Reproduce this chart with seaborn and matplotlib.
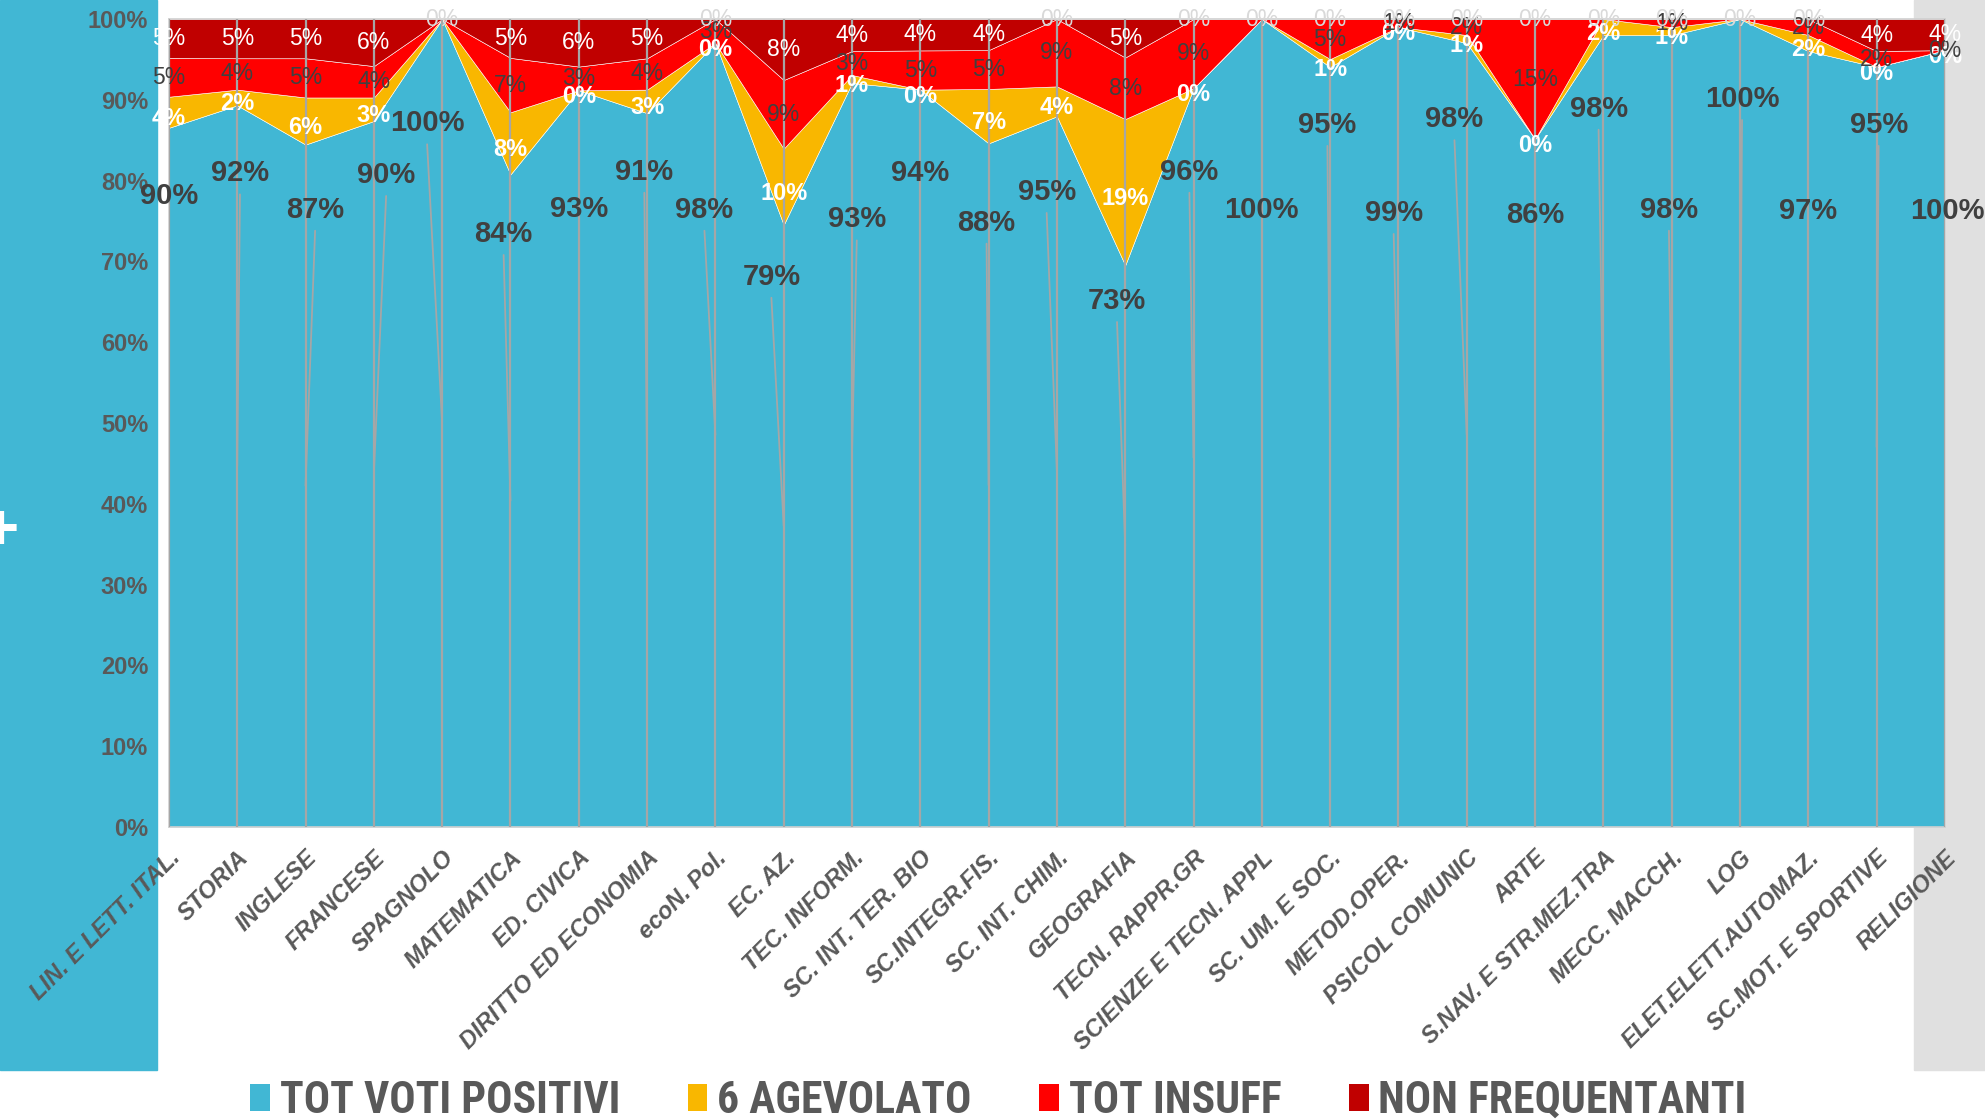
import pandas as pd
import seaborn as sns
import matplotlib.pyplot as plt
from matplotlib import font_manager
from matplotlib.patches import Patch, Rectangle
from matplotlib.font_manager import FontProperties

# data (percent labels as shown)
subjects = ["LIN. E LETT. ITAL.", "STORIA", "INGLESE", "FRANCESE", "SPAGNOLO",
            "MATEMATICA", "ED. CIVICA", "DIRITTO ED ECONOMIA", "ecoN. Pol.", "EC. AZ.",
            "TEC. INFORM.", "SC. INT. TER. BIO", "SC.INTEGR.FIS.", "SC. INT. CHIM.",
            "GEOGRAFIA", "TECN. RAPPR.GR", "SCIENZE E TECN. APPL", "SC. UM. E SOC.",
            "METOD.OPER.", "PSICOL COMUNIC", "ARTE", "S.NAV. E STR.MEZ.TRA",
            "MECC. MACCH.", "LOG", "ELET.ELETT.AUTOMAZ.", "SC.MOT. E SPORTIVE", "RELIGIONE"]
positivi = [90, 92, 87, 90, 100, 84, 93, 91, 98, 79, 93, 94, 88, 95, 73, 96, 100, 95, 99, 98, 86, 98, 98, 100, 97, 95, 100]
agevolato = [4, 2, 6, 3, 0, 8, 0, 3, 0, 10, 1, 0, 7, 4, 19, 0, 0, 1, 0, 1, 0, 2, 1, 0, 2, 0, 0]
insuff = [5, 4, 5, 4, 0, 7, 3, 4, 3, 9, 3, 5, 5, 9, 8, 9, 0, 5, 1, 2, 15, 0, 1, 0, 2, 2, 0]
non_freq = [5, 5, 5, 6, 0, 5, 6, 5, 0, 8, 4, 4, 4, 0, 5, 0, 0, 0, 0, 0, 0, 0, 0, 0, 0, 4, 4]

series_names = ["TOT VOTI POSITIVI", "6 AGEVOLATO", "TOT INSUFF", "NON FREQUENTANTI"]
colors = ["#41B7D4", "#F9B700", "#FF0000", "#C00000"]

# where the (dragged) labels of the first series sit
pos_label_y = [78.1, 80.9, 76.4, 80.7, 87.1, 73.4, 76.5, 81.1, 76.4, 68.1, 75.2, 80.9, 74.8, 78.6,
               65.1, 81.1, 76.4, 86.9, 76.0, 87.6, 75.7, 88.9, 76.4, 90.1, 76.2, 86.9, 76.2]
pos_label_dx = [0, 0.04, 0.14, 0.18, -0.22, -0.1, 0, -0.04, -0.16, -0.18, 0.07, 0, -0.03, -0.15,
                -0.12, -0.06, 0, -0.04, -0.07, -0.18, 0, -0.07, -0.04, 0.03, 0, 0.03, 0.03]

df = pd.DataFrame({series_names[0]: positivi, series_names[1]: agevolato,
                   series_names[2]: insuff, series_names[3]: non_freq}, index=subjects)
shares = df.div(df.sum(axis=1), axis=0) * 100

sns.set_theme(style="white")
plt.rcParams["font.family"] = ["Liberation Sans", "DejaVu Sans"]

# condensed bold font for the legend, if one is installed
installed = {f.name for f in font_manager.fontManager.ttflist}
legend_font = FontProperties(family="Liberation Sans", weight="bold", size=26)
for name, size in [("Liberation Sans Narrow", 32), ("Arial Narrow", 32),
                   ("Roboto Condensed", 31.5), ("Open Sans Condensed", 30)]:
    if name in installed:
        legend_font = FontProperties(family=name, weight="bold", size=size)
        break
else:
    if any(f.name == "DejaVu Sans" and f.stretch == "condensed" for f in font_manager.fontManager.ttflist):
        legend_font = FontProperties(family="DejaVu Sans", stretch="condensed", weight="bold", size=28)

fig = plt.figure(figsize=(19.85, 11.2), dpi=100)
fig.patches.append(Rectangle((0, 0.0446), 0.0791, 0.9554, transform=fig.transFigure,
                             color=colors[0], zorder=-5))
fig.patches.append(Rectangle((0.9642, 0.0446), 0.0358, 0.9554, transform=fig.transFigure,
                             color="#E0E0E0", zorder=-5))
fig.text(0.0, 0.525, "+", color="white", fontsize=46, fontweight="bold", ha="center", va="center")

ax = fig.add_axes([0.0851, 0.2616, 0.8947, 0.7214])
ax.set_zorder(2)
ax.set_facecolor("none")
x = list(range(len(subjects)))
ax.stackplot(x, [shares[c] for c in series_names], colors=colors,
             edgecolor="white", linewidth=0.4, zorder=2)
ax.vlines(x, 0, 100, color="#A6A6A6", lw=1.6, zorder=3)

ax.set_xlim(0, len(subjects) - 1)
ax.set_ylim(0, 100)
ax.set_yticks(range(0, 101, 10))
ax.set_yticklabels([f"{v}%" for v in range(0, 101, 10)], fontsize=17, fontweight="bold", color="#595959")
ax.set_xticks(x)
ax.set_xticklabels(subjects, rotation=45, ha="right", rotation_mode="anchor",
                   fontsize=17, fontweight="bold", fontstyle="italic", color="#595959")
ax.tick_params(axis="y", length=0, pad=15)
ax.tick_params(axis="x", length=0, pad=14)
for s in ax.spines.values():
    s.set_color("#D0D0D0")
    s.set_linewidth(1.2)

cum = shares.cumsum(axis=1)
for i in x:
    blue = shares.iloc[i, 0]
    # first series: labels moved up with leader lines
    ly = pos_label_y[i]
    lx = i + pos_label_dx[i]
    ax.plot([lx, i], [ly - 2.6, blue / 2], color="#A6A6A6", lw=1.3, zorder=4)
    ax.text(lx, ly, f"{positivi[i]}%", ha="center", va="center", fontsize=21,
            fontweight="bold", color="#404040", zorder=6, clip_on=False)
    raw = [positivi[i], agevolato[i], insuff[i], non_freq[i]]
    for k in (1, 2, 3):
        mid = cum.iloc[i, k] - shares.iloc[i, k] / 2
        if k < 3 and sum(raw[k:]) == 0:
            continue
        if k == 1:
            ax.text(i, mid - 0.8, f"{raw[k]}%", ha="center", va="center", fontsize=17,
                    fontweight="bold", color="white", zorder=6, clip_on=False)
        elif k == 2:
            ax.text(i, mid, f"{raw[k]}%", ha="center", va="center", fontsize=16.5,
                    color="#404040", zorder=6, clip_on=False)
        else:
            c = "white" if raw[k] > 0 else "#D9D9D9"
            ax.text(i, mid, f"{raw[k]}%", ha="center", va="center", fontsize=16.5,
                    color=c, zorder=6, clip_on=False)

handles = [Patch(facecolor=c, edgecolor="none") for c in colors]
leg = fig.legend(handles, series_names, loc="center", bbox_to_anchor=(0.503, 0.017), ncol=4,
                 frameon=False, handlelength=0.45, handleheight=0.6, handletextpad=0.22,
                 columnspacing=1.55, prop=legend_font)
for t in leg.get_texts():
    t.set_color("#595959")

fig.savefig("out.png", dpi=100)
